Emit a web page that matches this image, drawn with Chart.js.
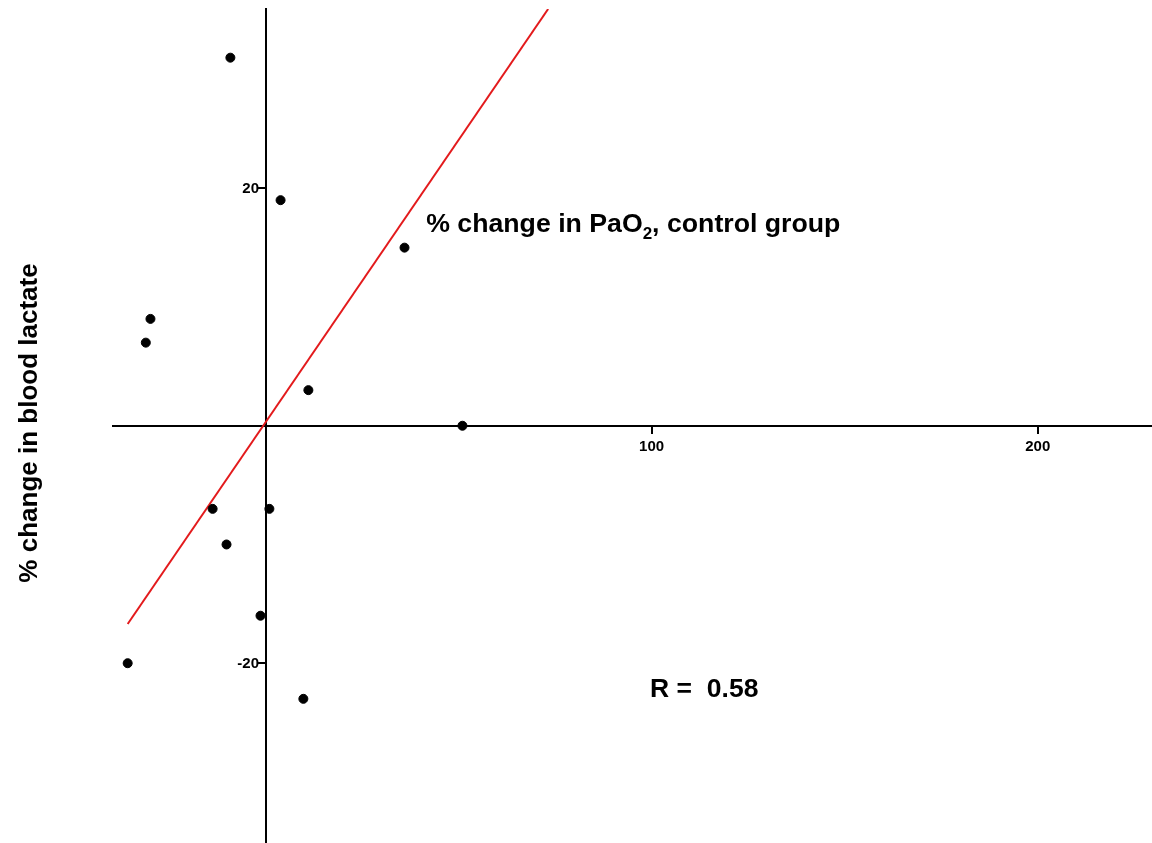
<!DOCTYPE html>
<html>
<head>
<meta charset="utf-8">
<title>% change in PaO2 vs blood lactate</title>
<script src="https://cdn.jsdelivr.net/npm/chart.js@4"></script>
<style>
  html, body { margin: 0; padding: 0; background: #fff; overflow: hidden; }
  #wrap { width: 1156px; height: 848px; position: relative; }
</style>
</head>
<body>
<div id="wrap"><canvas id="chart"></canvas></div>
<script>
  // values
  const pao2Change = [-9.1, 3.9, 36.0, -29.8, -31.0, 11.1, 51.0, -13.7, 1.0, -10.1, -1.3, -35.7, 9.8];
  const lactateChange = [31.0, 19.0, 15.0, 9.0, 7.0, 3.0, 0.0, -7.0, -7.0, -10.0, -16.0, -20.0, -23.0];
  const fitX = [-35.7, 73.2];
  const fitY = [-16.7, 35.1];
  const xTicks = [100, 200];
  const yTicks = [20, -20];

  const points = pao2Change.map((x, i) => ({ x: x, y: lactateChange[i] }));
  const fitLine = fitX.map((x, i) => ({ x: x, y: fitY[i] }));

  const FONT = "'Liberation Sans', Arial, sans-serif";

  // y ticks sit left of a centred axis, Chart.js puts them on top of it,
  // so the marks and labels of that axis are drawn here from its own ticks
  const yAxisTicks = {
    id: "yAxisTicks",
    afterDraw(chart) {
      const ctx = chart.ctx;
      const ys = chart.scales.y;
      const ax = Math.round(chart.scales.x.getPixelForValue(0));
      ctx.save();
      ctx.strokeStyle = "#000";
      ctx.fillStyle = "#000";
      ctx.lineWidth = 2;
      ctx.font = "bold 15px " + FONT;
      ctx.textAlign = "right";
      ctx.textBaseline = "middle";
      ys.ticks.forEach((t) => {
        const py = Math.round(ys.getPixelForValue(t.value));
        ctx.beginPath();
        ctx.moveTo(ax - 8, py);
        ctx.lineTo(ax, py);
        ctx.stroke();
        ctx.fillText(String(t.value), ax - 7, py + 1);
      });
      ctx.restore();
    }
  };

  // free text on the plot: axis title, caption and R value
  const textPlugin = {
    id: "plotText",
    afterDraw(chart) {
      const ctx = chart.ctx;
      const xs = chart.scales.x;
      const ys = chart.scales.y;
      ctx.save();
      ctx.fillStyle = "#000";

      // y axis title
      ctx.save();
      ctx.translate(37, 423);
      ctx.rotate(-Math.PI / 2);
      ctx.font = "bold 26px " + FONT;
      ctx.textAlign = "center";
      ctx.textBaseline = "alphabetic";
      ctx.fillText("% change in blood lactate", 0, 0);
      ctx.restore();

      // caption with subscript
      let cx = xs.getPixelForValue(41.6);
      const cy = ys.getPixelForValue(16.3);
      ctx.textAlign = "left";
      ctx.textBaseline = "alphabetic";
      ctx.font = "bold 26.7px " + FONT;
      const part1 = "% change in PaO";
      ctx.fillText(part1, cx, cy);
      cx += ctx.measureText(part1).width;
      ctx.font = "bold 17px " + FONT;
      ctx.fillText("2", cx, cy + 7);
      cx += ctx.measureText("2").width;
      ctx.font = "bold 26.7px " + FONT;
      ctx.fillText(", control group", cx, cy);

      // correlation
      ctx.font = "bold 26.5px " + FONT;
      ctx.fillText("R =  0.58", xs.getPixelForValue(99.6), ys.getPixelForValue(-22.86));
      ctx.restore();
    }
  };

  new Chart(document.getElementById("chart"), {
    type: "scatter",
    data: {
      datasets: [
        {
          label: "data",
          data: points,
          backgroundColor: "#000",
          borderColor: "#000",
          pointRadius: 4.5,
          pointHoverRadius: 4.5,
          order: 1
        },
        {
          label: "fit",
          type: "line",
          data: fitLine,
          borderColor: "#e31a1c",
          borderWidth: 2,
          pointRadius: 0,
          fill: false,
          order: 2
        }
      ]
    },
    options: {
      responsive: true,
      maintainAspectRatio: false,
      animation: false,
      layout: { padding: { left: 113, top: 9, right: 0, bottom: 0 } },
      plugins: {
        legend: { display: false },
        tooltip: { enabled: false }
      },
      scales: {
        x: {
          type: "linear",
          min: -39.5,
          max: 229.2,
          position: { y: 0 },
          afterBuildTicks: (scale) => { scale.ticks = xTicks.map((v) => ({ value: v })); },
          grid: {
            display: true,
            drawOnChartArea: false,
            drawTicks: true,
            tickLength: 7,
            color: "#000",
            lineWidth: 2
          },
          border: { display: true, color: "#000", width: 2 },
          ticks: {
            color: "#000",
            font: { family: FONT, size: 15, weight: "bold" },
            padding: 5,
            maxRotation: 0,
            autoSkip: false
          }
        },
        y: {
          type: "linear",
          min: -35.1,
          max: 35.1,
          position: { x: 0 },
          afterBuildTicks: (scale) => { scale.ticks = yTicks.map((v) => ({ value: v })); },
          grid: { display: false },
          border: { display: true, color: "#000", width: 2 },
          ticks: { display: false }
        }
      }
    },
    plugins: [yAxisTicks, textPlugin]
  });
</script>
</body>
</html>
